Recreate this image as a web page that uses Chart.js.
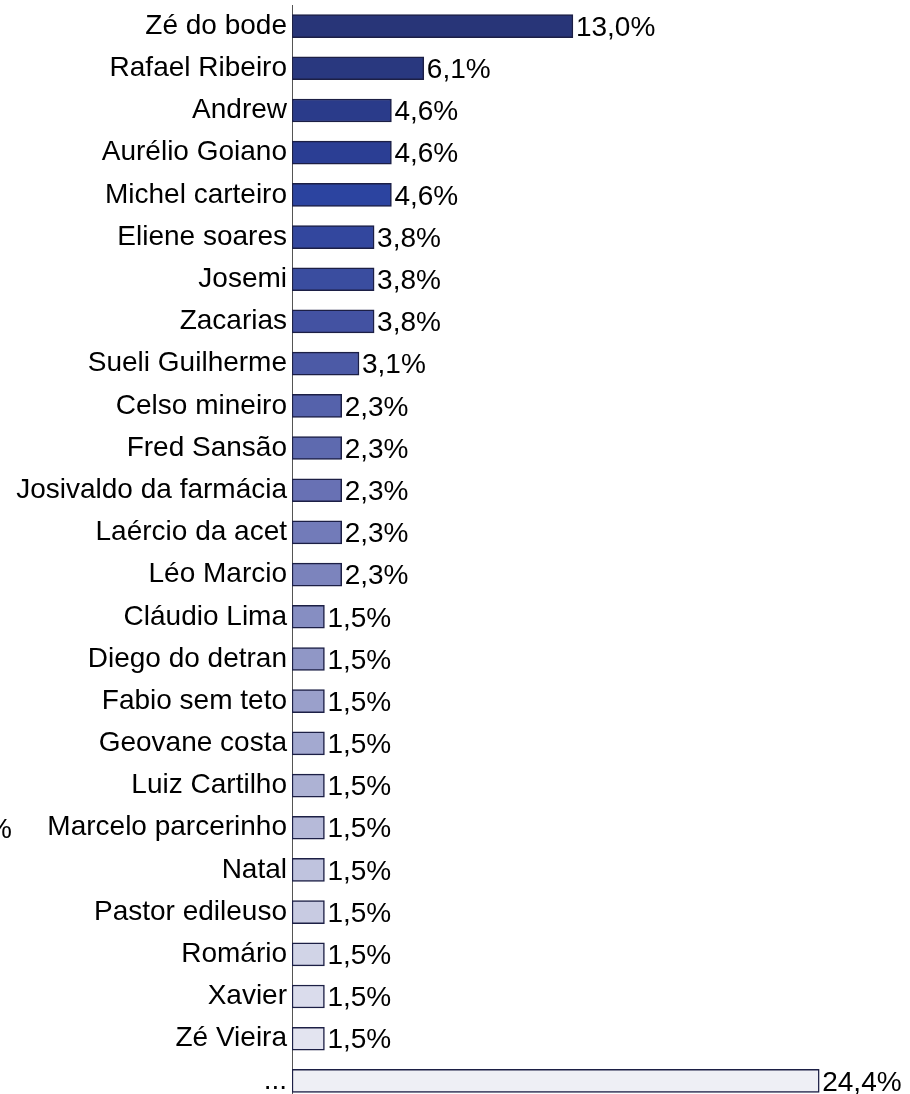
<!DOCTYPE html>
<html>
<head>
<meta charset="utf-8">
<script src="https://cdn.jsdelivr.net/npm/chart.js@4.4.1/dist/chart.umd.min.js"></script>
<style>
  html, body { margin: 0; padding: 0; background: #fff; overflow: hidden; }
  #wrap { position: relative; width: 910px; height: 1102px; }
  canvas { display: block; }
  #stray { position: absolute; left: -13px; top: 813px; font: 28px "Liberation Sans", Arial, sans-serif; color: #000; line-height: 32px; }
</style>
</head>
<body>
<div id="wrap">
  <canvas id="c" width="910" height="1102"></canvas>
  <span id="stray">%</span>
</div>
<script>
const categories = [
  "Zé do bode", "Rafael Ribeiro", "Andrew", "Aurélio Goiano", "Michel carteiro",
  "Eliene soares", "Josemi", "Zacarias", "Sueli Guilherme", "Celso mineiro",
  "Fred Sansão", "Josivaldo da farmácia", "Laércio da acet", "Léo Marcio",
  "Cláudio Lima", "Diego do detran", "Fabio sem teto", "Geovane costa",
  "Luiz Cartilho", "Marcelo parcerinho", "Natal", "Pastor edileuso",
  "Romário", "Xavier", "Zé Vieira", "..."
];
const values = [
  13.0, 6.1, 4.6, 4.6, 4.6,
  3.8, 3.8, 3.8, 3.1, 2.3,
  2.3, 2.3, 2.3, 2.3,
  1.5, 1.5, 1.5, 1.5,
  1.5, 1.5, 1.5, 1.5,
  1.5, 1.5, 1.5, 24.4
];
const valueLabels = [
  "13,0%", "6,1%", "4,6%", "4,6%", "4,6%",
  "3,8%", "3,8%", "3,8%", "3,1%", "2,3%",
  "2,3%", "2,3%", "2,3%", "2,3%",
  "1,5%", "1,5%", "1,5%", "1,5%",
  "1,5%", "1,5%", "1,5%", "1,5%",
  "1,5%", "1,5%", "1,5%", "24,4%"
];
const barColors = [
  "#283578", "#29387f", "#2a3b8a", "#2b3e94", "#2c44a0",
  "#33479e", "#3a4d9f", "#4352a2", "#4c5aa6", "#5562ab",
  "#5e6aaf", "#6871b4", "#727bb9", "#7c84bd",
  "#868ec2", "#9097c6", "#9aa0cb", "#a3a9d0",
  "#adb2d4", "#b6bad9", "#bfc3de", "#c8cbe2",
  "#d1d4e7", "#dadcec", "#e3e4f0", "#eeeff5"
];

const FONT = '"Liberation Sans", Arial, sans-serif';

const valueLabelPlugin = {
  id: 'valueLabels',
  afterDatasetsDraw(chart) {
    const ctx = chart.ctx;
    const meta = chart.getDatasetMeta(0);
    ctx.save();
    ctx.font = '28px ' + FONT;
    ctx.fillStyle = '#000';
    ctx.textAlign = 'left';
    ctx.textBaseline = 'middle';
    meta.data.forEach((bar, i) => {
      ctx.fillText(valueLabels[i], bar.x + 3, bar.y + 2);
    });
    ctx.restore();
  }
};

new Chart(document.getElementById('c'), {
  type: 'bar',
  data: {
    labels: categories,
    datasets: [{
      data: values,
      backgroundColor: barColors,
      borderColor: '#1c1f45',
      borderWidth: 1.5,
      borderSkipped: false,
      barThickness: 23
    }]
  },
  options: {
    indexAxis: 'y',
    responsive: false,
    animation: false,
    layout: { padding: { left: 0, right: 13, top: 5, bottom: 0 } },
    plugins: { legend: { display: false }, tooltip: { enabled: false } },
    scales: {
      x: { display: false, min: 0, max: 28 },
      y: {
        afterFit(scale) { scale.width = 292; scale.paddingTop = 0; scale.paddingBottom = 0; },
        grid: { display: false, drawTicks: false },
        border: { display: true, color: '#555', width: 1 },
        ticks: { color: '#000', font: { family: FONT, size: 28 }, padding: 5, autoSkip: false }
      }
    }
  },
  plugins: [valueLabelPlugin]
});
</script>
</body>
</html>
